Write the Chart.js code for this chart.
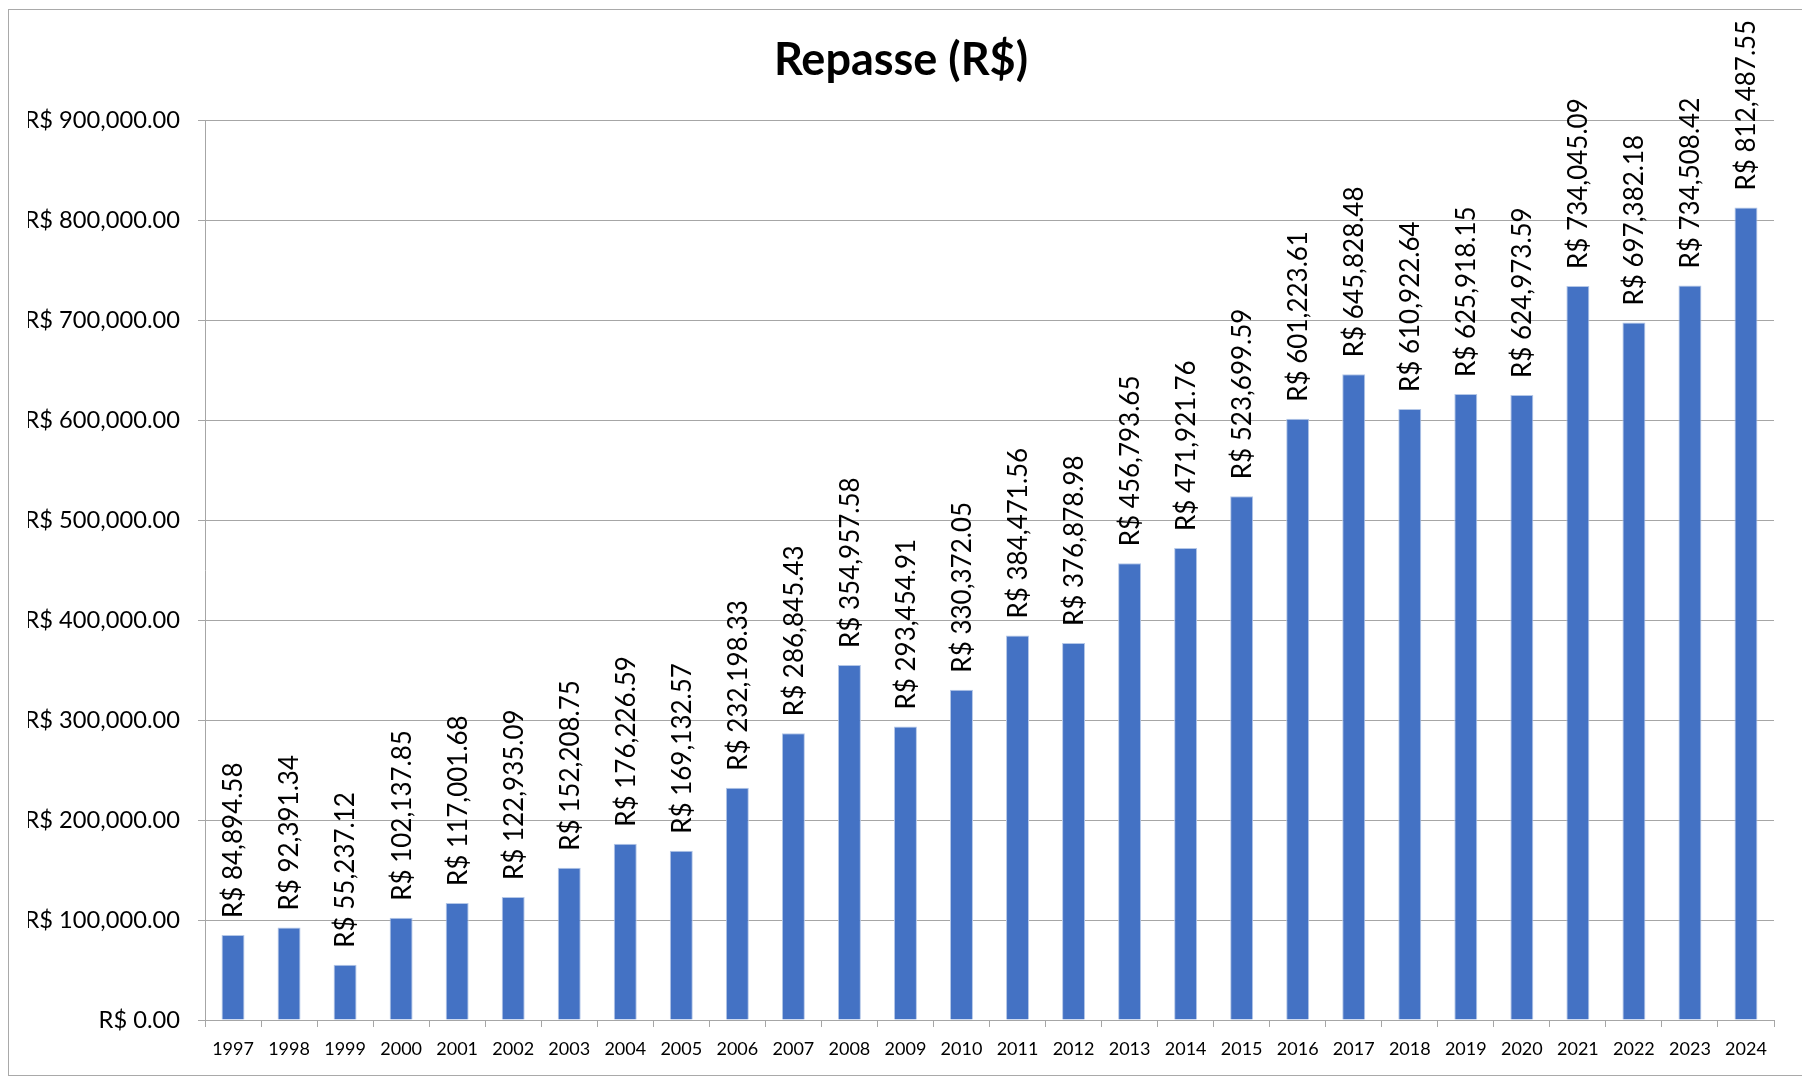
<!DOCTYPE html>
<html>
<head>
<meta charset="utf-8">
<title>Repasse (R$)</title>
<script src="https://cdn.jsdelivr.net/npm/chart.js@4.4.1/dist/chart.umd.min.js"></script>
<style>
  html, body { margin: 0; padding: 0; background: #ffffff; overflow: hidden; }
  #wrap { position: absolute; left: 0; top: 0; width: 1802px; height: 1076px; }
  #frame {
    position: absolute; left: 8px; top: 9px; width: 1900px; height: 1067px;
    border: 1.5px solid #a9a9a9; box-sizing: border-box; pointer-events: none;
  }
</style>
</head>
<body>
<div id="wrap"><canvas id="c" width="1802" height="1076"></canvas></div>
<div id="frame"></div>
<script>
// Annual transfers (repasse) in reais
const years = ['1997','1998','1999','2000','2001','2002','2003','2004','2005','2006',
               '2007','2008','2009','2010','2011','2012','2013','2014','2015','2016',
               '2017','2018','2019','2020','2021','2022','2023','2024'];
const repasse = [84894.58, 92391.34, 55237.12, 102137.85, 117001.68, 122935.09, 152208.75,
                 176226.59, 169132.57, 232198.33, 286845.43, 354957.58, 293454.91, 330372.05,
                 384471.56, 376878.98, 456793.65, 471921.76, 523699.59, 601223.61, 645828.48,
                 610922.64, 625918.15, 624973.59, 734045.09, 697382.18, 734508.42, 812487.55];
const yTicks = [0, 100000, 200000, 300000, 400000, 500000, 600000, 700000, 800000, 900000];

const FONT = 'Lato, "Open Sans", sans-serif';
const GRID = '#a6a6a6';

const brl = v => 'R$ ' + v.toLocaleString('en-US', { minimumFractionDigits: 2, maximumFractionDigits: 2 });

// Vertical value labels above each bar
const barLabels = {
  id: 'barLabels',
  afterDatasetsDraw(chart) {
    const ctx = chart.ctx;
    const meta = chart.getDatasetMeta(0);
    ctx.save();
    ctx.font = '26px ' + FONT;
    ctx.fillStyle = '#000000';
    ctx.textAlign = 'left';
    ctx.textBaseline = 'middle';
    meta.data.forEach((bar, i) => {
      ctx.save();
      ctx.translate(bar.x + 1, bar.y - 17);
      ctx.rotate(-Math.PI / 2);
      ctx.fillText(brl(repasse[i]), 0, 0);
      ctx.restore();
    });
    ctx.restore();
  }
};

new Chart(document.getElementById('c'), {
  type: 'bar',
  data: {
    labels: years,
    datasets: [{
      data: repasse,
      backgroundColor: '#4472c4',
      borderColor: '#b4c7e7',
      borderWidth: 1,
      barPercentage: 0.41,
      categoryPercentage: 1.0
    }]
  },
  options: {
    responsive: false,
    animation: false,
    devicePixelRatio: 1,
    layout: { padding: { left: 28, right: 28, top: 0, bottom: 0 } },
    plugins: {
      legend: { display: false },
      tooltip: { enabled: false },
      title: {
        display: true,
        text: 'Repasse (R$)',
        color: '#000000',
        font: { family: FONT, size: 45, weight: 'bold' },
        padding: { top: 33, bottom: 33 }
      }
    },
    scales: {
      x: {
        grid: { display: true, drawOnChartArea: false, drawTicks: true, tickLength: 7, color: GRID, offset: true },
        border: { color: GRID, width: 1 },
        ticks: { color: '#000000', font: { family: FONT, size: 18 }, padding: 11, maxRotation: 0, autoSkip: false },
        afterFit: s => { s.height = 56; }
      },
      y: {
        min: 0,
        max: 900000,
        afterBuildTicks: s => { s.ticks = yTicks.map(v => ({ value: v })); },
        grid: { color: GRID, lineWidth: 1, tickLength: 7, drawTicks: true },
        border: { color: GRID, width: 1 },
        ticks: { color: '#000000', font: { family: FONT, size: 23.7 }, padding: 18, callback: v => brl(v) },
        afterFit: s => { s.width = 177; }
      }
    }
  },
  plugins: [barLabels]
});
</script>
</body>
</html>
